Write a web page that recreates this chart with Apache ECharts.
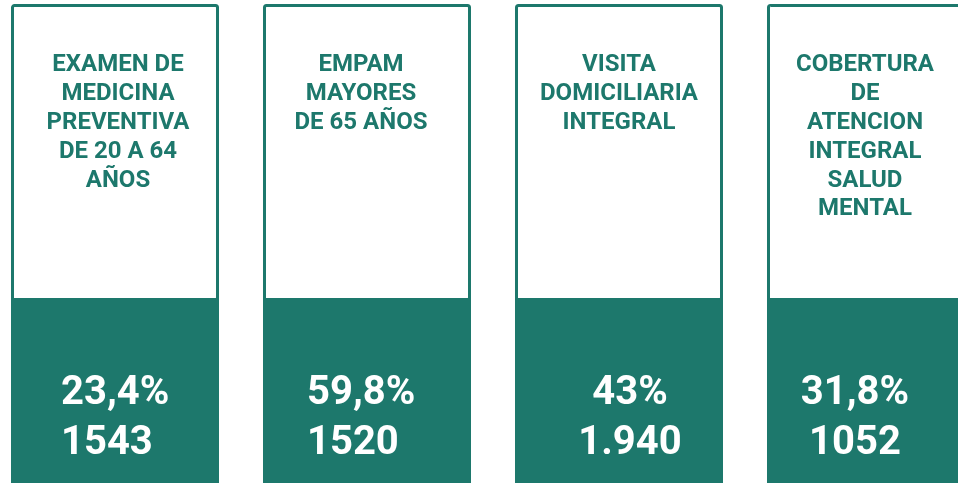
<!DOCTYPE html>
<html>
<head>
<meta charset="utf-8">
<script src="https://cdn.jsdelivr.net/npm/echarts@6/dist/echarts.min.js"></script>
<style>
html,body{margin:0;padding:0;background:#fff;}
#chart{width:958px;height:483px;}
</style>
</head>
<body>
<div id="chart"></div>
<script>
// Data
var categories = [
  'EXAMEN DE\nMEDICINA\nPREVENTIVA\nDE 20 A 64\nAÑOS',
  'EMPAM\nMAYORES\nDE 65 AÑOS',
  'VISITA\nDOMICILIARIA\nINTEGRAL',
  'COBERTURA\nDE\nATENCION\nINTEGRAL\nSALUD\nMENTAL'
];
var percentLabels = ['23,4%', '59,8%', '43%', '31,8%'];
var countLabels = ['1543', '1520', '1.940', '1052'];

// Styling (not data)
var titleShift = [3, -6, 0, -6];
var valueAlign = ['left', 'left', 'center', 'center'];
var valueShift = [-54, -60, 11, -16];

var GREEN = '#1d786c';
var chart = echarts.init(document.getElementById('chart'));

var seriesData = categories.map(function (c, i) { return [i, 1]; });

// card centres: 115 + 252*i pixels over a 958px wide grid
var PITCH = 252, FIRST = 115, W = 958;
chart.setOption({
  animation: false,
  grid: { left: 0, right: 0, top: 4, bottom: 0 },
  xAxis: { type: 'value', min: -FIRST / PITCH, max: (W - FIRST) / PITCH, show: false },
  yAxis: { type: 'value', min: 0, max: 1, show: false },
  series: [{
    type: 'custom',
    data: seriesData,
    renderItem: function (params, api) {
      var i = api.value(0);
      var top = api.coord([i, 1]);
      var bottom = api.coord([i, 0]);
      var w = api.size([0.8254, 0])[0];
      var cx = top[0];
      var x0 = cx - w / 2;
      var y0 = top[1];
      var y1 = bottom[1];
      var splitY = 298;
      return {
        type: 'group',
        children: [
          {
            type: 'rect',
            shape: { x: x0 + 1.5, y: y0 + 1.5, width: w - 3, height: splitY - y0, r: 2 },
            style: { fill: '#fff', stroke: GREEN, lineWidth: 3 }
          },
          {
            type: 'rect',
            shape: { x: x0, y: splitY, width: w, height: y1 - splitY + 2 },
            style: { fill: GREEN }
          },
          {
            type: 'text',
            x: cx + titleShift[i],
            y: 51,
            style: {
              text: categories[i],
              fill: GREEN,
              font: 'bold 24px Roboto',
              lineHeight: 28.8,
              align: 'center',
              verticalAlign: 'top'
            }
          },
          {
            type: 'text',
            x: cx + valueShift[i],
            y: 369,
            style: {
              text: percentLabels[i] + '\n' + countLabels[i],
              fill: '#fff',
              font: 'bold 40px Roboto',
              lineHeight: 50,
              align: valueAlign[i],
              verticalAlign: 'top'
            }
          }
        ]
      };
    }
  }]
});
</script>
</body>
</html>
